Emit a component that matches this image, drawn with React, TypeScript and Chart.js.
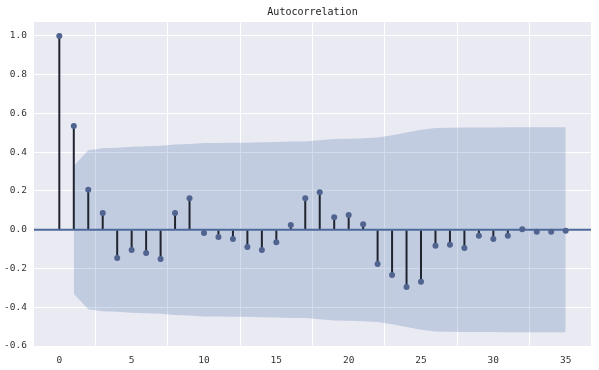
import React, { useEffect, useRef } from "react";
import { Chart, registerables } from "chart.js";

Chart.register(...registerables);

const chartTitle = "Autocorrelation";

// lags 0..35
const lags = [
  0, 1, 2, 3, 4, 5, 6, 7, 8, 9, 10, 11, 12, 13, 14, 15, 16, 17, 18, 19, 20, 21,
  22, 23, 24, 25, 26, 27, 28, 29, 30, 31, 32, 33, 34, 35,
];

const acfValues = [
  1.0, 0.535, 0.206, 0.086, -0.146, -0.105, -0.12, -0.151, 0.086, 0.163, -0.017,
  -0.038, -0.048, -0.089, -0.105, -0.064, 0.024, 0.163, 0.194, 0.065, 0.076,
  0.029, -0.177, -0.234, -0.296, -0.268, -0.082, -0.077, -0.094, -0.031, -0.048,
  -0.031, 0.002, -0.01, -0.01, -0.005,
];

// confidence band (symmetric about 0), lags 1..35
const bandLags = [
  1, 2, 3, 4, 5, 6, 7, 8, 9, 10, 11, 12, 13, 14, 15, 16, 17, 18, 19, 20, 21, 22,
  23, 24, 25, 26, 27, 28, 29, 30, 31, 32, 33, 34, 35,
];
const bandHalfWidth = [
  0.33, 0.41, 0.421, 0.423, 0.428, 0.431, 0.434, 0.44, 0.442, 0.447, 0.448,
  0.449, 0.449, 0.451, 0.453, 0.455, 0.456, 0.462, 0.468, 0.47, 0.472, 0.476,
  0.487, 0.502, 0.516, 0.525, 0.526, 0.527, 0.528, 0.528, 0.529, 0.529, 0.529,
  0.529, 0.529,
];

const xTicks = [0, 5, 10, 15, 20, 25, 30, 35];
const yTicks = [-0.6, -0.4, -0.2, 0.0, 0.2, 0.4, 0.6, 0.8, 1.0];
const xMin = -1.75;
const xMax = 36.75;
const yMin = -0.605;
const yMax = 1.072;

const FONT = "'DejaVu Sans Mono', 'Liberation Mono', monospace";

export default function App() {
  const ref = useRef<HTMLCanvasElement>(null);

  useEffect(() => {
    const canvas = ref.current;
    if (!canvas) return;

    const bgPlugin = {
      id: "plotBg",
      beforeDraw(chart: any) {
        const { ctx, chartArea } = chart;
        ctx.save();
        ctx.fillStyle = "#EAEAF2";
        ctx.fillRect(
          chartArea.left,
          chartArea.top,
          chartArea.right - chartArea.left,
          chartArea.bottom - chartArea.top
        );
        ctx.restore();
      },
    };

    const chart = new Chart(canvas, {
      type: "line",
      data: {
        datasets: [
          {
            type: "line",
            label: "acf",
            data: lags.map((x, i) => ({ x, y: acfValues[i] })),
            showLine: false,
            pointRadius: 3,
            pointBackgroundColor: "#50648f",
            pointBorderWidth: 0,
            order: 1,
          },
          {
            type: "line",
            label: "zero",
            data: [
              { x: xMin, y: 0 },
              { x: xMax, y: 0 },
            ],
            borderColor: "#4e6a9a",
            borderWidth: 2,
            pointRadius: 0,
            order: 2,
          },
          {
            type: "bar",
            label: "stems",
            data: lags.map((x, i) => ({ x, y: acfValues[i] })),
            backgroundColor: "#20242f",
            barThickness: 2,
            inflateAmount: 0,
            borderWidth: 0,
            order: 3,
          } as any,
          {
            type: "line",
            label: "upper",
            data: bandLags.map((x, i) => ({ x, y: bandHalfWidth[i] })),
            fill: "+1",
            backgroundColor: "rgba(76,114,176,0.25)",
            borderWidth: 0,
            borderColor: "rgba(0,0,0,0)",
            pointRadius: 0,
            tension: 0,
            order: 4,
          },
          {
            type: "line",
            label: "lower",
            data: bandLags.map((x, i) => ({ x, y: -bandHalfWidth[i] })),
            fill: false,
            borderWidth: 0,
            borderColor: "rgba(0,0,0,0)",
            pointRadius: 0,
            tension: 0,
            order: 5,
          },
        ],
      },
      options: {
        responsive: false,
        animation: false,
        devicePixelRatio: 1,
        layout: { padding: { left: 0, right: 8, top: 0, bottom: 0 } },
        plugins: {
          legend: { display: false },
          tooltip: { enabled: false },
          title: {
            display: true,
            text: chartTitle,
            fullSize: false,
            color: "#1a1a1a",
            font: { family: FONT, size: 10, weight: "normal" },
            padding: { top: 6, bottom: 4 },
          },
        },
        scales: {
          x: {
            type: "linear",
            min: xMin,
            max: xMax,
            offset: false,
            border: { display: false },
            grid: { color: "#ffffff", lineWidth: 1, drawTicks: false },
            ticks: {
              padding: 8,
              color: "#333333",
              font: { family: FONT, size: 9.5 },
              callback: (v: any) => String(v),
            },
            afterBuildTicks: (s: any) => {
              s.ticks = xTicks.map((v) => ({ value: v }));
            },
            afterFit: (s: any) => {
              s.height = 23;
            },
          },
          y: {
            type: "linear",
            min: yMin,
            max: yMax,
            border: { display: false },
            grid: { color: "#ffffff", lineWidth: 1, drawTicks: false },
            ticks: {
              padding: 7,
              color: "#333333",
              font: { family: FONT, size: 9.5 },
              callback: (v: any) => Number(v).toFixed(1),
            },
            afterBuildTicks: (s: any) => {
              s.ticks = yTicks.map((v) => ({ value: v }));
            },
            afterFit: (s: any) => {
              s.width = 34;
            },
          },
        },
      },
      plugins: [bgPlugin],
    } as any);

    return () => chart.destroy();
  }, []);

  return (
    <div
      style={{
        position: "absolute",
        left: 0,
        top: 0,
        width: 599,
        height: 370,
        background: "#ffffff",
      }}
    >
      <canvas
        ref={ref}
        width={599}
        height={370}
        style={{ width: 599, height: 370, display: "block" }}
      />
    </div>
  );
}
